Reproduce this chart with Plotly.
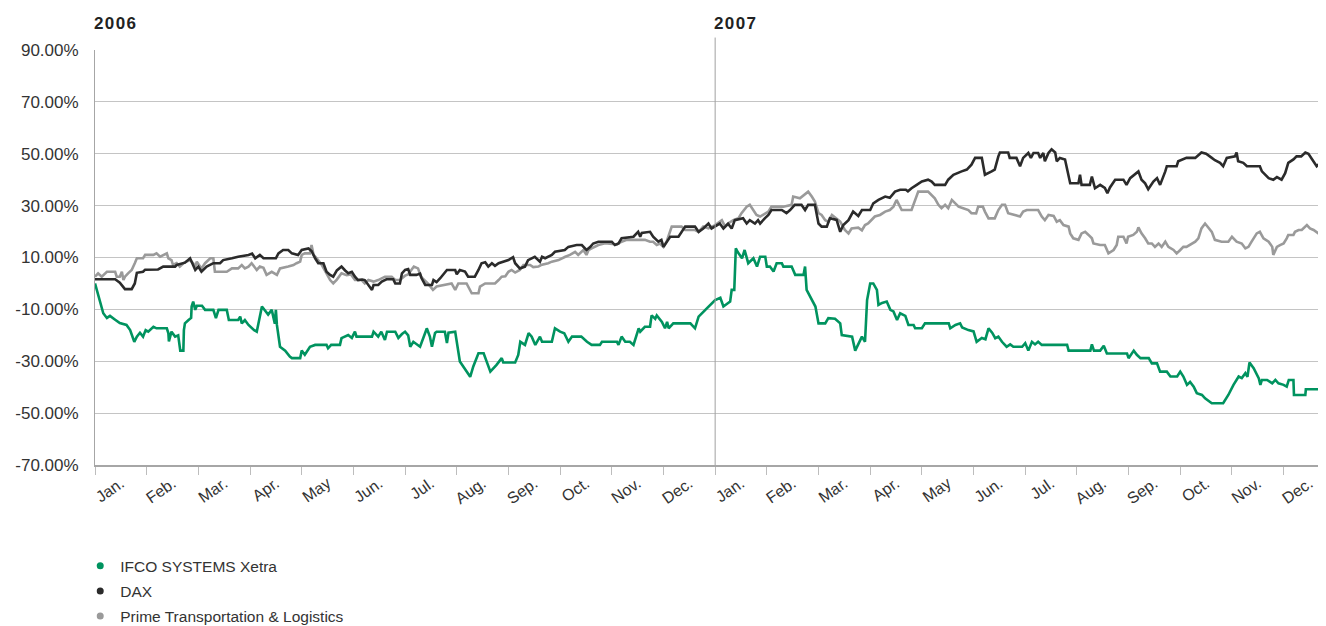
import plotly.graph_objects as go

# ---------------- data ----------------
month_labels = ["Jan.", "Feb.", "Mar.", "Apr.", "May", "Jun.", "Jul.", "Aug.", "Sep.", "Oct.", "Nov.", "Dec."] * 2
years = ["2006", "2007"]
y_ticks = [-70, -50, -30, -10, 10, 30, 50, 70, 90]

# x positions are in months since 1 Jan 2006 (0 = start of Jan 2006, 12 = start of Jan 2007)
ifco_t = [0.00, 0.16, 0.23, 0.29, 0.39, 0.48, 0.61, 0.68, 0.76, 0.81, 0.87, 0.93, 0.98, 1.03, 1.13, 1.19, 1.39, 1.42, 1.43, 1.48,
          1.55, 1.61, 1.65, 1.71, 1.72, 1.74, 1.81, 1.86, 1.87, 1.90, 1.94, 1.97, 2.07, 2.13, 2.29, 2.34, 2.39, 2.55, 2.59, 2.77,
          2.81, 2.84, 2.90, 2.97, 3.08, 3.13, 3.23, 3.30, 3.35, 3.42, 3.48, 3.50, 3.52, 3.58, 3.68, 3.77, 3.81, 3.97, 4.00, 4.06,
          4.16, 4.26, 4.48, 4.51, 4.57, 4.74, 4.77, 4.90, 4.97, 5.03, 5.06, 5.36, 5.39, 5.48, 5.54, 5.61, 5.65, 5.81, 5.87, 5.94,
          6.00, 6.06, 6.10, 6.16, 6.29, 6.39, 6.42, 6.48, 6.52, 6.58, 6.61, 6.77, 6.81, 6.84, 6.97, 7.06, 7.13, 7.19, 7.26, 7.32,
          7.42, 7.52, 7.65, 7.77, 7.87, 7.90, 8.13, 8.19, 8.23, 8.32, 8.39, 8.45, 8.52, 8.61, 8.65, 8.84, 8.90, 9.00, 9.08, 9.16,
          9.23, 9.41, 9.52, 9.61, 9.77, 9.81, 10.10, 10.13, 10.19, 10.26, 10.35, 10.42, 10.52, 10.55, 10.64, 10.74, 10.77, 10.84, 10.87, 10.97,
          11.03, 11.07, 11.10, 11.19, 11.52, 11.61, 11.68, 11.81, 12.00, 12.10, 12.16, 12.29, 12.32, 12.37, 12.40, 12.44, 12.52, 12.57, 12.61, 12.64,
          12.74, 12.81, 12.87, 12.97, 13.00, 13.06, 13.13, 13.19, 13.29, 13.32, 13.48, 13.55, 13.71, 13.74, 13.77, 13.87, 13.94, 14.00, 14.13, 14.19,
          14.32, 14.42, 14.45, 14.65, 14.71, 14.84, 14.90, 14.94, 15.00, 15.06, 15.13, 15.16, 15.23, 15.32, 15.39, 15.45, 15.52, 15.58, 15.68, 15.74,
          15.84, 15.87, 16.00, 16.06, 16.52, 16.55, 16.65, 16.74, 16.78, 16.90, 17.00, 17.06, 17.16, 17.23, 17.29, 17.36, 17.42, 17.48, 17.55, 17.64,
          17.71, 17.77, 17.94, 18.00, 18.06, 18.13, 18.19, 18.25, 18.32, 18.81, 18.84, 19.26, 19.29, 19.33, 19.45, 19.52, 19.58, 19.97, 20.00, 20.10,
          20.16, 20.23, 20.39, 20.45, 20.55, 20.61, 20.74, 20.81, 20.94, 21.00, 21.06, 21.13, 21.19, 21.26, 21.32, 21.42, 21.48, 21.61, 21.83, 21.93,
          22.03, 22.13, 22.19, 22.26, 22.30, 22.34, 22.42, 22.52, 22.55, 22.58, 22.68, 22.78, 22.84, 22.90, 23.00, 23.06, 23.10, 23.19, 23.20, 23.42,
          23.43, 23.82]
ifco_pct = [0.0, -11.5, -13.3, -12.5, -14.0, -15.3, -16.0, -18.0, -22.5, -20.5, -19.0, -20.5, -18.0, -18.6, -16.7, -17.3, -17.3, -19.2, -22.4, -18.6,
            -20.5, -20.0, -25.9, -25.9, -18.0, -15.4, -14.1, -13.3, -8.9, -7.0, -10.2, -8.6, -8.6, -10.2, -10.2, -13.4, -10.2, -10.2, -14.1, -14.1,
            -12.8, -15.4, -14.1, -16.0, -18.0, -18.6, -8.9, -10.8, -12.0, -10.2, -15.5, -10.2, -16.0, -24.4, -25.9, -28.2, -28.8, -28.8, -25.9, -27.5,
            -24.4, -23.7, -23.7, -25.0, -23.7, -23.7, -21.1, -19.9, -21.0, -18.6, -20.5, -20.5, -18.6, -20.5, -18.6, -21.8, -18.6, -18.6, -21.0, -19.5,
            -18.6, -20.0, -24.4, -22.5, -24.4, -19.0, -17.3, -20.5, -24.4, -19.1, -18.6, -18.6, -23.0, -19.0, -18.6, -30.1, -32.0, -34.0, -36.0, -32.0,
            -26.9, -26.9, -34.0, -31.4, -28.8, -30.5, -30.5, -27.6, -22.5, -23.7, -19.2, -20.5, -23.7, -20.5, -22.5, -22.5, -17.3, -18.6, -19.2, -22.5,
            -20.5, -20.5, -22.5, -23.7, -23.7, -22.5, -22.5, -23.7, -20.5, -22.5, -22.5, -23.7, -17.3, -18.6, -16.7, -16.7, -12.3, -13.6, -12.3, -14.8,
            -17.3, -14.8, -17.3, -15.4, -15.4, -17.3, -12.8, -10.2, -6.4, -5.5, -8.9, -7.0, -2.5, -2.5, 13.5, 12.0, 9.7, 12.9, 9.7, 7.8,
            9.7, 6.5, 10.3, 10.3, 6.5, 6.5, 4.6, 7.8, 7.8, 6.5, 6.5, 3.3, 3.3, 6.5, -2.5, -6.4, -8.9, -15.4, -15.4, -13.4,
            -13.6, -15.4, -19.9, -20.5, -25.9, -20.5, -22.5, -6.4, 0.0, 0.0, -2.5, -8.3, -7.5, -7.0, -10.2, -10.8, -14.1, -11.5, -12.5, -16.0,
            -16.0, -17.3, -17.3, -15.4, -15.4, -17.3, -16.0, -15.4, -17.0, -18.0, -18.5, -22.5, -21.0, -21.5, -17.3, -19.0, -21.1, -20.5, -22.5, -24.4,
            -23.5, -24.4, -24.4, -23.0, -25.9, -22.5, -23.5, -22.5, -23.7, -23.7, -25.9, -25.9, -23.5, -25.9, -25.9, -24.0, -27.0, -27.0, -28.8, -25.9,
            -27.5, -28.8, -28.8, -30.8, -30.8, -34.0, -34.0, -35.9, -35.9, -34.0, -35.9, -39.1, -38.0, -39.8, -42.3, -43.0, -44.3, -46.2, -46.2, -43.0,
            -39.1, -35.9, -36.5, -34.6, -36.0, -30.5, -32.7, -36.6, -39.1, -37.2, -37.2, -38.5, -37.2, -38.5, -39.1, -39.8, -37.2, -37.2, -43.0, -43.0,
            -40.8, -40.8]

dax_t = [0.00, 0.39, 0.48, 0.58, 0.71, 0.77, 0.81, 0.93, 0.97, 1.22, 1.32, 1.55, 1.58, 1.68, 1.74, 1.84, 1.90, 1.94, 2.00, 2.06,
         2.16, 2.29, 2.42, 2.48, 2.65, 2.77, 2.97, 3.04, 3.10, 3.19, 3.26, 3.35, 3.50, 3.55, 3.64, 3.74, 3.81, 3.93, 4.00, 4.13,
         4.19, 4.26, 4.32, 4.42, 4.48, 4.55, 4.61, 4.68, 4.77, 4.84, 4.90, 4.97, 5.03, 5.09, 5.17, 5.22, 5.29, 5.36, 5.39, 5.48,
         5.55, 5.64, 5.77, 5.81, 5.90, 5.94, 6.00, 6.06, 6.10, 6.22, 6.29, 6.32, 6.39, 6.52, 6.55, 6.61, 6.68, 6.74, 6.81, 6.97,
         7.00, 7.06, 7.16, 7.22, 7.35, 7.42, 7.48, 7.55, 7.61, 7.68, 7.74, 7.81, 7.90, 8.00, 8.09, 8.13, 8.22, 8.32, 8.38, 8.51,
         8.61, 8.65, 8.71, 8.84, 8.90, 9.09, 9.16, 9.32, 9.42, 9.51, 9.58, 9.64, 9.74, 10.00, 10.06, 10.13, 10.19, 10.42, 10.48, 10.51,
         10.55, 10.58, 10.74, 10.80, 10.90, 10.96, 11.00, 11.06, 11.13, 11.29, 11.38, 11.42, 11.61, 11.68, 11.77, 11.87, 11.93, 12.00, 12.09, 12.16,
         12.25, 12.32, 12.38, 12.54, 12.61, 12.67, 12.77, 12.83, 12.87, 12.96, 13.03, 13.09, 13.29, 13.38, 13.45, 13.54, 13.67, 13.74, 13.80, 13.93,
         14.00, 14.06, 14.16, 14.22, 14.35, 14.42, 14.48, 14.58, 14.67, 14.77, 14.84, 15.00, 15.06, 15.16, 15.29, 15.38, 15.48, 15.58, 15.69, 15.73,
         15.80, 15.90, 16.00, 16.12, 16.19, 16.25, 16.45, 16.51, 16.61, 16.77, 16.87, 16.96, 17.03, 17.16, 17.22, 17.35, 17.41, 17.48, 17.51, 17.67,
         17.70, 17.83, 17.90, 17.96, 18.06, 18.11, 18.16, 18.25, 18.29, 18.35, 18.38, 18.45, 18.51, 18.58, 18.61, 18.67, 18.77, 18.87, 19.03, 19.06,
         19.09, 19.25, 19.29, 19.35, 19.45, 19.54, 19.59, 19.64, 19.74, 19.90, 19.96, 20.03, 20.12, 20.19, 20.25, 20.32, 20.38, 20.48, 20.55, 20.61,
         20.71, 20.74, 20.93, 20.96, 21.12, 21.29, 21.41, 21.50, 21.61, 21.67, 21.77, 21.83, 21.90, 22.06, 22.09, 22.12, 22.22, 22.29, 22.54, 22.58,
         22.71, 22.80, 22.87, 22.96, 23.03, 23.09, 23.19, 23.25, 23.34, 23.42, 23.48, 23.55, 23.64, 23.74, 23.82]
dax_pct = [1.6, 1.6, 0.3, -2.2, -2.2, 0.0, 4.1, 4.5, 5.3, 5.4, 6.5, 6.5, 7.1, 7.8, 8.0, 9.7, 7.0, 5.2, 6.5, 4.5,
           6.5, 7.8, 7.8, 9.0, 9.7, 10.3, 11.0, 11.5, 9.7, 11.0, 9.7, 9.7, 9.7, 11.6, 12.9, 12.9, 11.6, 11.0, 12.9, 13.5,
           12.5, 9.7, 7.8, 7.8, 4.5, 3.3, 2.6, 5.0, 6.5, 5.0, 3.9, 4.5, 2.6, 1.3, 1.5, 1.3, -0.6, -2.5, -0.6, -0.6,
           0.7, 1.6, 1.6, 0.0, 0.0, 3.9, 5.2, 5.5, 3.3, 3.3, 3.8, 2.0, -0.6, -0.6, 1.3, 0.5, 2.0, 3.3, 5.2, 5.2,
           3.5, 5.2, 4.6, 2.6, 2.6, 5.2, 7.8, 8.2, 6.5, 7.8, 6.8, 7.8, 8.4, 9.0, 10.1, 7.8, 5.8, 6.5, 9.0, 10.3,
           8.4, 10.3, 9.7, 11.0, 12.2, 12.9, 14.1, 14.8, 14.8, 12.9, 14.0, 15.4, 16.1, 16.1, 14.8, 15.4, 17.4, 18.0, 19.3, 19.9,
           18.0, 19.5, 19.9, 18.0, 16.1, 16.8, 14.1, 16.1, 18.0, 18.0, 20.6, 21.9, 21.9, 19.9, 21.2, 23.1, 21.2, 21.9, 23.1, 21.2,
           23.0, 21.2, 24.4, 25.1, 23.1, 24.4, 23.1, 24.4, 23.1, 25.1, 26.4, 28.3, 28.3, 27.1, 28.3, 30.3, 30.3, 28.3, 30.3, 30.3,
           23.1, 21.9, 21.9, 25.1, 24.5, 19.9, 22.5, 24.4, 27.7, 26.0, 28.3, 28.3, 30.9, 32.2, 33.5, 33.0, 35.4, 36.1, 36.1, 35.5,
           36.7, 38.0, 39.3, 40.0, 39.3, 38.0, 38.0, 40.0, 41.9, 43.2, 43.9, 45.8, 48.4, 48.4, 41.9, 43.2, 43.9, 49.0, 50.5, 50.5,
           48.4, 48.4, 45.2, 48.4, 50.3, 48.4, 50.3, 50.3, 48.4, 50.3, 47.1, 50.3, 51.7, 50.5, 47.1, 48.4, 47.8, 38.6, 38.6, 41.9,
           38.0, 38.0, 41.2, 36.7, 38.0, 36.8, 34.8, 37.0, 40.0, 40.0, 38.0, 40.6, 41.9, 43.2, 40.0, 38.6, 36.3, 39.3, 40.6, 38.0,
           43.2, 45.2, 45.2, 47.1, 48.4, 48.4, 50.5, 50.0, 48.4, 47.5, 46.5, 45.2, 48.4, 49.0, 50.5, 47.1, 46.5, 45.2, 45.2, 43.2,
           40.6, 40.0, 41.0, 40.0, 42.5, 46.5, 47.8, 49.0, 49.0, 50.5, 50.0, 47.8, 45.2, 47.1, 48.4]

prime_t = [0.00, 0.06, 0.13, 0.23, 0.39, 0.42, 0.48, 0.52, 0.55, 0.58, 0.64, 0.71, 0.77, 0.81, 0.93, 0.97, 1.13, 1.19, 1.26, 1.32,
           1.39, 1.42, 1.48, 1.51, 1.58, 1.64, 1.71, 1.77, 1.84, 1.90, 1.94, 1.97, 2.03, 2.06, 2.13, 2.23, 2.29, 2.32, 2.55, 2.65,
           2.77, 2.84, 2.90, 2.97, 3.03, 3.13, 3.19, 3.26, 3.32, 3.42, 3.52, 3.58, 3.74, 3.84, 3.90, 3.97, 4.00, 4.06, 4.16, 4.19,
           4.23, 4.29, 4.39, 4.48, 4.55, 4.61, 4.68, 4.77, 4.87, 4.95, 5.03, 5.16, 5.22, 5.29, 5.39, 5.48, 5.61, 5.74, 5.81, 5.90,
           6.00, 6.06, 6.17, 6.25, 6.31, 6.44, 6.54, 6.61, 6.90, 6.97, 7.03, 7.19, 7.26, 7.29, 7.42, 7.45, 7.55, 7.74, 7.81, 7.87,
           7.94, 8.00, 8.06, 8.13, 8.22, 8.29, 8.42, 8.48, 8.58, 8.63, 8.77, 8.84, 8.97, 9.03, 9.10, 9.19, 9.29, 9.35, 9.45, 9.51,
           9.55, 9.61, 9.67, 9.74, 9.87, 10.10, 10.19, 10.29, 10.64, 10.74, 10.80, 10.87, 10.93, 11.00, 11.06, 11.13, 11.16, 11.35, 11.42, 11.61,
           11.68, 11.77, 11.87, 12.00, 12.13, 12.19, 12.25, 12.35, 12.45, 12.51, 12.61, 12.67, 12.74, 12.80, 12.87, 12.96, 13.03, 13.09, 13.32, 13.48,
           13.51, 13.64, 13.71, 13.80, 13.87, 13.93, 14.00, 14.06, 14.13, 14.19, 14.26, 14.35, 14.42, 14.51, 14.58, 14.64, 14.77, 14.84, 14.90, 14.96,
           15.09, 15.19, 15.29, 15.38, 15.45, 15.51, 15.61, 15.80, 15.87, 15.93, 16.12, 16.19, 16.25, 16.32, 16.38, 16.45, 16.51, 16.58, 16.64, 16.71,
           16.80, 16.90, 16.96, 17.05, 17.09, 17.18, 17.22, 17.29, 17.41, 17.48, 17.55, 17.61, 17.67, 17.83, 17.90, 17.96, 18.03, 18.25, 18.32, 18.38,
           18.45, 18.55, 18.61, 18.67, 18.74, 18.84, 18.87, 18.93, 19.03, 19.09, 19.16, 19.22, 19.29, 19.32, 19.45, 19.54, 19.58, 19.61, 19.71, 19.77,
           19.80, 19.90, 19.96, 19.99, 20.09, 20.16, 20.19, 20.25, 20.32, 20.38, 20.45, 20.51, 20.58, 20.64, 20.71, 20.77, 20.87, 20.93, 21.00, 21.06,
           21.12, 21.22, 21.29, 21.35, 21.41, 21.48, 21.55, 21.61, 21.67, 21.80, 21.93, 22.00, 22.09, 22.19, 22.26, 22.32, 22.38, 22.48, 22.54, 22.61,
           22.71, 22.78, 22.80, 22.87, 22.93, 23.00, 23.06, 23.09, 23.19, 23.22, 23.29, 23.35, 23.45, 23.51, 23.58, 23.67, 23.74, 23.82]
prime_pct = [2.6, 3.9, 2.6, 4.5, 4.5, 2.6, 2.6, 4.5, 1.3, 2.6, 3.9, 5.2, 7.8, 9.7, 9.7, 11.0, 11.0, 11.6, 10.3, 11.0,
             11.6, 9.7, 9.0, 7.1, 7.8, 6.5, 7.8, 8.4, 9.0, 7.8, 6.5, 8.4, 6.5, 5.8, 7.8, 9.7, 9.7, 4.5, 4.5, 5.8,
             5.8, 7.1, 5.8, 6.5, 7.8, 5.2, 6.5, 6.0, 3.3, 4.5, 3.3, 5.8, 6.5, 7.1, 7.8, 8.4, 11.0, 11.6, 11.6, 14.8,
             11.0, 9.7, 7.1, 3.9, 1.3, 0.0, 1.5, 3.9, 3.2, 3.5, 1.3, 1.3, 0.0, 1.3, 0.7, 1.3, 2.6, 2.6, 1.3, 1.3,
             3.0, 3.5, 6.5, 5.8, 2.5, 0.0, -2.5, -1.2, 0.0, -2.5, 0.0, 0.0, -2.5, -3.8, -3.8, -1.2, 0.0, 0.0, 1.3, 2.6,
             2.8, 4.5, 5.2, 4.2, 5.2, 7.1, 7.1, 6.3, 6.5, 7.1, 7.8, 8.4, 9.0, 9.7, 10.3, 11.0, 12.2, 11.0, 12.9, 11.0,
             12.9, 13.5, 14.1, 14.8, 15.5, 15.0, 16.1, 16.8, 16.8, 16.1, 16.1, 14.8, 15.4, 14.1, 16.1, 20.6, 21.9, 21.9, 20.6, 20.6,
             19.9, 21.9, 21.2, 22.5, 24.4, 22.0, 23.1, 24.4, 25.1, 27.1, 29.6, 30.3, 28.3, 26.4, 25.8, 27.0, 27.7, 29.6, 29.6, 30.3,
             33.5, 32.8, 34.1, 35.4, 33.5, 31.6, 27.1, 26.4, 24.4, 23.8, 26.4, 25.0, 23.8, 20.6, 19.3, 21.2, 21.5, 20.5, 22.5, 23.1,
             25.8, 26.4, 27.7, 28.3, 29.6, 32.2, 28.3, 28.3, 32.2, 35.4, 35.4, 34.1, 32.8, 30.3, 29.0, 30.3, 29.0, 32.2, 31.0, 29.6,
             29.0, 28.3, 27.1, 27.0, 29.6, 29.6, 27.7, 25.1, 25.1, 28.3, 30.3, 30.3, 27.1, 26.4, 25.8, 27.7, 28.3, 28.3, 25.8, 24.4,
             26.4, 26.0, 23.8, 24.4, 22.5, 21.9, 19.3, 17.4, 16.8, 19.3, 19.9, 18.8, 17.4, 15.4, 14.8, 14.8, 12.9, 11.6, 12.9, 14.8,
             18.0, 18.0, 15.4, 18.0, 18.7, 19.9, 21.6, 19.3, 17.4, 15.4, 15.4, 14.1, 15.4, 14.1, 16.1, 14.1, 12.9, 11.6, 12.9, 14.1,
             14.1, 15.4, 16.1, 17.4, 21.2, 23.1, 21.2, 19.9, 16.8, 16.1, 16.1, 18.0, 16.1, 15.4, 13.5, 14.1, 16.1, 19.3, 19.9, 17.4,
             16.1, 14.1, 11.0, 14.1, 14.8, 15.4, 17.4, 18.7, 18.7, 19.9, 20.6, 20.6, 22.5, 21.2, 20.6, 19.3, 20.0, 19.9]

series = [
    ("IFCO SYSTEMS Xetra", ifco_t, ifco_pct, "#00935f"),
    ("DAX", dax_t, dax_pct, "#2b2b2b"),
    ("Prime Transportation & Logistics", prime_t, prime_pct, "#9a9a9a"),
]

FONT = "Liberation Sans, Arial, Helvetica, sans-serif"
TXT = "#333333"

fig = go.Figure()

# draw lines (gray first, green on top)
for name, t, v, col in reversed(series):
    fig.add_trace(go.Scatter(x=t, y=v, mode="lines", name=name, showlegend=False,
                             line=dict(color=col, width=2.6), hoverinfo="skip"))

# legend entries as dots (one legend group each, so the group gap spaces them out)
for name, t, v, col in series:
    fig.add_trace(go.Scatter(x=[None], y=[None], mode="markers", name=name, legendgroup=name,
                             marker=dict(color=col, size=7)))

# page body has an 8px default margin, so the figure is 8px smaller than the window
fig.update_layout(
    width=1318, height=618,
    margin=dict(l=87, r=0, t=42, b=161, autoexpand=False),
    paper_bgcolor="white", plot_bgcolor="white",
    font=dict(family=FONT, color=TXT),
    showlegend=True,
    legend=dict(x=-0.012, xanchor="left", y=-0.203, yanchor="top",
                font=dict(size=15.5, color=TXT), bgcolor="rgba(0,0,0,0)",
                itemclick=False, tracegroupgap=2),
)

fig.update_xaxes(
    range=[0, 23.82], automargin=False,
    tickmode="array",
    tickvals=[i + 0.5 for i in range(len(month_labels))],
    ticktext=month_labels,
    ticks="", tickangle=-35, tickfont=dict(size=16, color=TXT),
    ticklabelstandoff=1,
    showgrid=False, zeroline=False,
    showline=True, linecolor="#a6a6a6", linewidth=2,
    minor=dict(tickmode="linear", tick0=0, dtick=1, ticks="outside", ticklen=8,
               tickcolor="#bdbdbd", tickwidth=1, showgrid=False),
)

fig.update_yaxes(
    range=[-70, 90], automargin=False,
    tickmode="array", tickvals=y_ticks,
    ticktext=[f"{v:.2f}%" for v in y_ticks],
    tickfont=dict(size=17, color=TXT),
    ticks="", ticklabelstandoff=12,
    showgrid=True, gridcolor="#c4c4c4", gridwidth=1,
    zeroline=False,
    showline=True, linecolor="#a6a6a6", linewidth=1,
)

# year separator line at start of 2007
fig.add_shape(type="line", xref="x", yref="paper", x0=12, x1=12, y0=0, y1=1.03,
              line=dict(color="#a0a0a0", width=1))

# year labels
for i, yr in enumerate(years):
    fig.add_annotation(x=12 * i, xref="x", y=1.065, yref="paper", text="\u200a".join(yr),
                       showarrow=False, xanchor="left", yanchor="middle", xshift=-3,
                       font=dict(size=17, color="#222222", family=FONT, weight="bold"))

fig.write_html("out.html")
